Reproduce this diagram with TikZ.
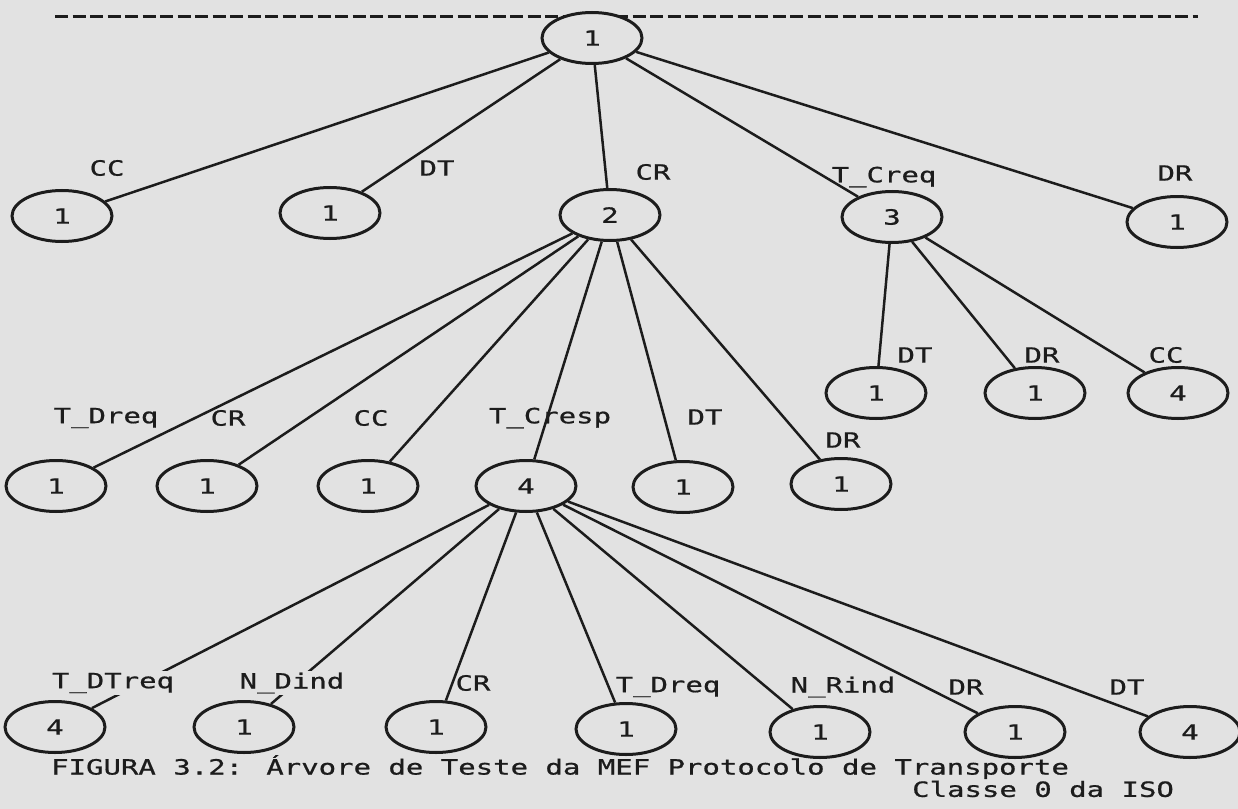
\documentclass[tikz,border=0pt]{standalone}
\usepackage{fontspec}
\usetikzlibrary{shapes.geometric}
\newfontfamily\dotfont[FakeStretch=1.38,FakeBold=0.8]{DejaVu Sans Mono}
\newcommand\dotsize{\fontsize{21bp}{24bp}\selectfont}
\definecolor{paper}{HTML}{E2E2E2}
\definecolor{ink}{HTML}{1C1C1C}
\begin{document}
\begin{tikzpicture}[x=1bp,y=-1bp,
  state/.style={ellipse,draw=ink,line width=3bp,fill=paper,
    minimum width=100bp,minimum height=51bp,inner sep=0pt,
    font=\dotfont\dotsize,text=ink},
  edge/.style={draw=ink,line width=2.5bp},
  lbl/.style={font=\dotfont\dotsize,text=ink,inner sep=0pt},
  masklbl/.style={lbl,fill=paper,inner sep=1.5bp},
  rule/.style={draw=ink,line width=3bp,dash pattern=on 13bp off 4.5bp}]

% paper and frame
\fill[paper] (0,0) rectangle (1238,809);
\useasboundingbox (0,0) rectangle (1238,809);

% dashed rule across the top
\coordinate (ruleL) at (55,17);
\coordinate (ruleR) at (1198,17);
\draw[rule] (ruleL) -- (ruleR);

% states
\node[state] (root) at (592,38) {1};

\node[state] (a1) at (62,216) {1};
\node[state] (a2) at (330,213) {1};
\node[state] (n2) at (610,215) {2};
\node[state] (n3) at (892,217) {3};
\node[state] (a5) at (1177,222) {1};

\node[state] (b1) at (56,486) {1};
\node[state] (b2) at (207,486) {1};
\node[state] (b3) at (368,486) {1};
\node[state] (n4) at (526,486) {4};
\node[state] (b5) at (683,487) {1};
\node[state] (b6) at (841,484) {1};

\node[state] (c1) at (876,393) {1};
\node[state] (c2) at (1035,393) {1};
\node[state] (c3) at (1178,393) {4};

\node[state] (d1) at (55,727) {4};
\node[state] (d2) at (244,727) {1};
\node[state] (d3) at (436,727) {1};
\node[state] (d4) at (626,729) {1};
\node[state] (d5) at (820,732) {1};
\node[state] (d6) at (1015,732) {1};
\node[state] (d7) at (1190,732) {4};

% transitions
\foreach \c in {a1,a2,n2,n3,a5} \draw[edge] (root) -- (\c);
\foreach \c in {b1,b2,b3,n4,b5,b6} \draw[edge] (n2) -- (\c);
\foreach \c in {c1,c2,c3} \draw[edge] (n3) -- (\c);
\foreach \c in {d1,d2,d3,d4,d5,d6,d7} \draw[edge] (n4) -- (\c);

% transition labels
\node[lbl] (lCC1) at (107,168) {CC};
\node[lbl] (lDT1) at (437,168) {DT};
\node[lbl] (lCR1) at (653,172) {CR};
\node[lbl] (lTC1) at (884,177) {T\_Creq};
\node[lbl] (lDR1) at (1175,173) {DR};

\node[lbl] (lTD2) at (106,418) {T\_Dreq};
\node[lbl] (lCR2) at (228,418) {CR};
\node[lbl] (lCC2) at (371,418) {CC};
\node[lbl] (lTR2) at (550,418) {T\_Cresp};
\node[lbl] (lDT2) at (705,417) {DT};
\node[lbl] (lDR2) at (843,440) {DR};

\node[lbl] (lDT3) at (915,355) {DT};
\node[lbl] (lDR3) at (1042,355) {DR};
\node[lbl] (lCC3) at (1166,355) {CC};

\node[masklbl] (lTT4) at (113,683) {T\_DTreq};
\node[masklbl] (lND4) at (292,683) {N\_Dind};
\node[lbl] (lCR4) at (473,683) {CR};
\node[lbl] (lTD4) at (668,687) {T\_Dreq};
\node[lbl] (lNR4) at (843,687) {N\_Rind};
\node[lbl] (lDR4) at (966,687) {DR};
\node[lbl] (lDT4) at (1127,687) {DT};

% caption
\node[lbl,anchor=west] (cap1) at (51,767) {FIGURA 3.2: Árvore de Teste da MEF Protocolo de Transporte};
\node[lbl,anchor=west] (cap2) at (912,789) {Classe 0 da ISO};
\end{tikzpicture}
\end{document}
